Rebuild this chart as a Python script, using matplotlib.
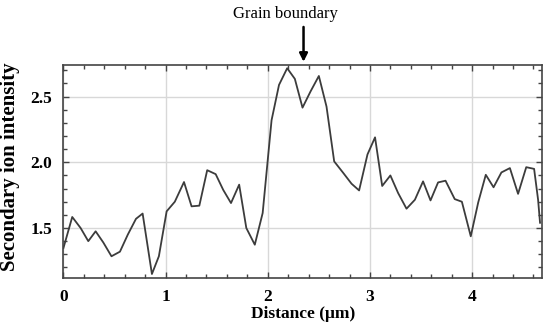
import matplotlib
matplotlib.use("Agg")
import matplotlib.pyplot as plt
from matplotlib.ticker import MultipleLocator

# line profile
distance = [0.0, 0.086, 0.168, 0.243, 0.315, 0.39, 0.47, 0.553, 0.63, 0.71,
            0.775, 0.866, 0.934, 1.01, 1.09, 1.18, 1.254, 1.33, 1.407, 1.49,
            1.564, 1.64, 1.72, 1.79, 1.873, 1.95, 2.0, 2.037, 2.11, 2.19,
            2.265, 2.34, 2.419, 2.50, 2.575, 2.65, 2.74, 2.82, 2.894, 2.976,
            3.05, 3.12, 3.20, 3.276, 3.358, 3.44, 3.52, 3.593, 3.667, 3.74,
            3.83, 3.90, 3.987, 4.06, 4.134, 4.21, 4.287, 4.37, 4.45, 4.53,
            4.607, 4.646, 4.665]
intensity = [1.348, 1.584, 1.50, 1.40, 1.475, 1.39, 1.285, 1.32, 1.45, 1.57,
             1.61, 1.15, 1.285, 1.627, 1.70, 1.85, 1.665, 1.67, 1.94, 1.91,
             1.79, 1.69, 1.83, 1.50, 1.373, 1.614, 2.02, 2.32, 2.589, 2.716,
             2.635, 2.416, 2.54, 2.657, 2.424, 2.007, 1.918, 1.837, 1.786, 2.06,
             2.19, 1.82, 1.90, 1.766, 1.647, 1.715, 1.855, 1.71, 1.847, 1.86,
             1.72, 1.70, 1.437, 1.695, 1.905, 1.81, 1.923, 1.956, 1.76, 1.963,
             1.95, 1.715, 1.54]

x_ticks = [0, 1, 2, 3, 4]
y_ticks = [1.5, 2.0, 2.5]
boundary_x = 2.35

plt.rcParams['font.family'] = ['Liberation Serif', 'DejaVu Serif']

fig = plt.figure(figsize=(5.47, 3.27), dpi=100)
ax = fig.add_axes([0.116, 0.15, 0.875, 0.651])

ax.plot(distance, intensity, color='#3c3c3c', lw=1.3)

ax.set_xlim(0, 4.685)
ax.set_ylim(1.12, 2.74)
ax.set_xticks(x_ticks)
ax.set_yticks(y_ticks)
ax.set_xticklabels([str(t) for t in x_ticks], fontweight='bold', fontsize=12.5)
ax.set_yticklabels(['%.1f' % t for t in y_ticks], fontweight='bold', fontsize=12.5)
ax.xaxis.set_minor_locator(MultipleLocator(0.2))
ax.yaxis.set_minor_locator(MultipleLocator(0.1))
ax.tick_params(which='both', direction='in', top=True, right=True,
               color='#444444', width=1)
ax.tick_params(which='major', length=4, pad=8)
ax.tick_params(which='minor', length=3)
ax.grid(True, which='major', color='#d8d8d8', lw=1)
for s in ax.spines.values():
    s.set_color('#444444')
    s.set_linewidth(1.2)

ax.set_xlabel('Distance (\u03bcm)', fontweight='bold', fontsize=12.5, labelpad=1)
fig.text(0.018, 0.49, 'Secondary ion intensity', rotation=90, ha='center',
         va='center', fontweight='bold', fontsize=15)

# grain boundary marker
fig.text(285.8 / 547, 1 - 14 / 327, 'Grain boundary', ha='center', va='center',
         fontsize=12)
ax.annotate('', xy=(boundary_x, 2.765), xytext=(boundary_x, 3.03),
            xycoords='data', textcoords='data', annotation_clip=False,
            arrowprops=dict(arrowstyle='-|>', color='black', lw=1.8,
                            mutation_scale=12, shrinkA=0, shrinkB=0))

fig.savefig('out.png', dpi=100)
